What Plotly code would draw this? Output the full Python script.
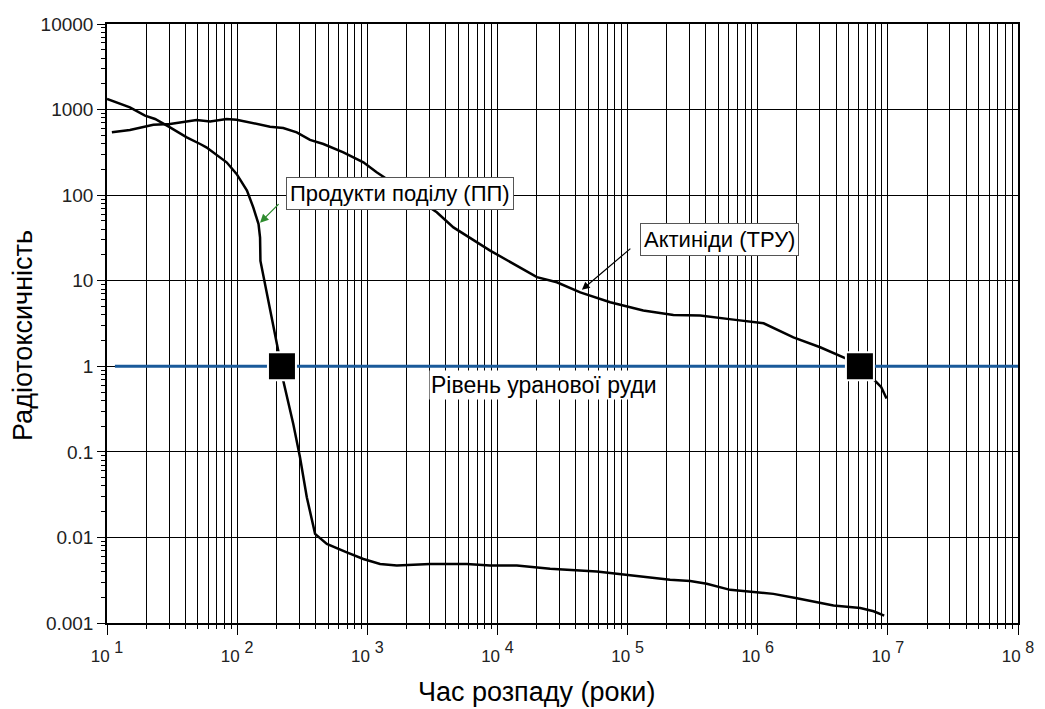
import math
import plotly.graph_objects as go

# ---- data ----
fp_years = [10, 15, 19.6, 23.4, 30.5, 41, 52, 58, 83, 99, 119, 133, 146, 150, 151, 169, 207,
            226, 270, 304, 343, 397, 489, 696, 933, 1254, 1686, 3040, 5820, 8790, 14100, 25400,
            40700, 58000, 82700, 111000, 149000, 212000, 303000, 406000, 614000, 929000,
            1.32e6, 2.0e6, 3.82e6, 6.14e6, 7.77e6, 9.37e6]
fp_tox = [1330, 1060, 849, 776, 618, 473, 396, 362, 242, 177, 113, 72, 46, 32, 17, 7.0, 1.52,
          0.68, 0.212, 0.0865, 0.0295, 0.011, 0.0084, 0.0067, 0.0056, 0.0049, 0.0047, 0.0049,
          0.0049, 0.0047, 0.0047, 0.0043, 0.0041, 0.0040, 0.00376, 0.00359, 0.00337, 0.0032,
          0.0031, 0.00287, 0.00244, 0.00229, 0.00219, 0.00195, 0.0016, 0.0015, 0.00137, 0.00122]

act_years = [10.9, 15, 22.7, 30.5, 48.8, 62, 83, 99, 179, 226, 287, 363, 460, 655, 933, 1180,
             3420, 4590, 8790, 20100, 28600, 43300, 73500, 132000, 225000, 361000, 651000,
             1.11e6, 1.88e6, 3.02e6, 4.84e6, 6.1e6, 8.2e6, 8.9e6, 9.77e6]
act_tox = [542, 578, 666, 679, 756, 728, 776, 762, 631, 609, 542, 442, 396, 316, 242, 185,
           63, 42, 22.5, 11, 9.6, 7.3, 5.6, 4.48, 3.98, 3.91, 3.51, 3.18, 2.18, 1.67, 1.22,
           1.0, 0.65, 0.57, 0.42]

ore_years = [11.5, 1e8]
ore_level = [1, 1]

cross_years = [221, 6.1e6]
cross_tox = [1, 1]

x_decades = [1, 2, 3, 4, 5, 6, 7, 8]
x_ticktext = ["<span style='font-size:17px'>10 </span><sup>%d</sup>" % k for k in x_decades]
y_decades = [-3, -2, -1, 0, 1, 2, 3, 4]
y_ticktext = ["0.001", "0.01", "0.1", "1", "10", "100", "1000", "10000"]

label_fp = "Продукти поділу (ПП)"
label_act = "Актиніди (ТРУ)"
label_ore = "Рівень уранової руди"
x_title = "Час розпаду (роки)"
y_title = "Радіотоксичність"

# ---- figure ----
fig = go.Figure()
fig.add_trace(go.Scatter(x=ore_years, y=ore_level, mode="lines",
                         line=dict(color="#1a5a9a", width=3), hoverinfo="skip"))
fig.add_trace(go.Scatter(x=fp_years, y=fp_tox, mode="lines",
                         line=dict(color="black", width=2.5), name=label_fp))
fig.add_trace(go.Scatter(x=act_years, y=act_tox, mode="lines",
                         line=dict(color="black", width=2.5), name=label_act))
fig.add_trace(go.Scatter(x=cross_years, y=cross_tox, mode="markers",
                         marker=dict(symbol="square", size=28, color="black",
                                     line=dict(color="white", width=2))))

x_minor = [m * 10 ** k for k in range(1, 8) for m in range(2, 10)]
y_minor = [m * 10 ** k for k in range(-3, 4) for m in range(2, 10)]

sans = "Liberation Sans"
label_font = "Liberation Sans"

fig.update_xaxes(
    type="log", range=[1, 8],
    tickvals=[10 ** k for k in x_decades], ticktext=x_ticktext,
    ticks="outside", ticklen=10, tickcolor="black", tickwidth=1,
    showgrid=True, gridcolor="black", gridwidth=1,
    showline=True, linecolor="black", linewidth=1.5, mirror=True,
    tickfont=dict(family=sans, size=23, color="#222"),
    minor=dict(tickvals=x_minor, ticks="outside", ticklen=4, tickcolor="black",
               showgrid=True, gridcolor="black", gridwidth=1),
    zeroline=False,
)
fig.update_yaxes(
    type="log", range=[-3, 4],
    tickvals=[10 ** k for k in y_decades], ticktext=y_ticktext,
    ticks="outside", ticklen=8, tickcolor="black", tickwidth=1,
    showgrid=True, gridcolor="black", gridwidth=1,
    showline=True, linecolor="black", linewidth=1.5, mirror=True,
    tickfont=dict(family=sans, size=19, color="#222"),
    minor=dict(tickvals=y_minor, ticks="outside", ticklen=4, tickcolor="black",
               showgrid=False),
    zeroline=False,
)

# the page has an 8px body margin: compensate so the plot area lands at x 107..1018, y 24..623
OFF = 8
W, H = 1045 - OFF, 709 - OFF
L, R, T, B = 107 - OFF, 27, 24 - OFF, 86
pw, ph = W - L - R, H - T - B


def px_to_paper(px, py):
    return ((px - OFF) - L) / pw, 1 - ((py - OFF) - T) / ph


xt = px_to_paper(536, 692)
yt = px_to_paper(23, 336)

annotations = [
    # arrow for fission products (green)
    dict(x=math.log10(150), y=math.log10(47.7), ax=math.log10(214), ay=math.log10(81.7),
         xref="x", yref="y", axref="x", ayref="y", text="", showarrow=True,
         arrowhead=2, arrowsize=1.3, arrowwidth=1.3, arrowcolor="#2e8b2e"),
    dict(x=3.252, y=2.023, xref="x", yref="y", text=label_fp, showarrow=False,
         font=dict(family=label_font, size=22, color="black"),
         bgcolor="white", bordercolor="#555", borderwidth=1, borderpad=3),
    # arrow for actinides (black)
    dict(x=4.649, y=0.893, ax=5.033, ay=1.390,
         xref="x", yref="y", axref="x", ayref="y", text="", showarrow=True,
         arrowhead=2, arrowsize=1.3, arrowwidth=1.2, arrowcolor="black"),
    dict(x=5.704, y=1.480, xref="x", yref="y", text=label_act, showarrow=False,
         font=dict(family=label_font, size=22, color="black"),
         bgcolor="white", bordercolor="#555", borderwidth=1, borderpad=3),
    # ore level label
    dict(x=4.355, y=-0.215, xref="x", yref="y", text=label_ore, showarrow=False,
         font=dict(family=label_font, size=23, color="black"), bgcolor="white", borderpad=1),
    # axis titles
    dict(x=xt[0], y=xt[1], xref="paper", yref="paper", text=x_title, showarrow=False,
         xanchor="center", yanchor="middle",
         font=dict(family=label_font, size=27, color="black")),
    dict(x=yt[0], y=yt[1], xref="paper", yref="paper", text=y_title, showarrow=False,
         xanchor="center", yanchor="middle", textangle=-90,
         font=dict(family=label_font, size=27, color="black")),
]

fig.update_layout(
    width=W, height=H,
    margin=dict(l=L, r=R, t=T, b=B, autoexpand=False),
    paper_bgcolor="white", plot_bgcolor="white",
    showlegend=False,
    annotations=annotations,
)

fig.write_html("out.html")
